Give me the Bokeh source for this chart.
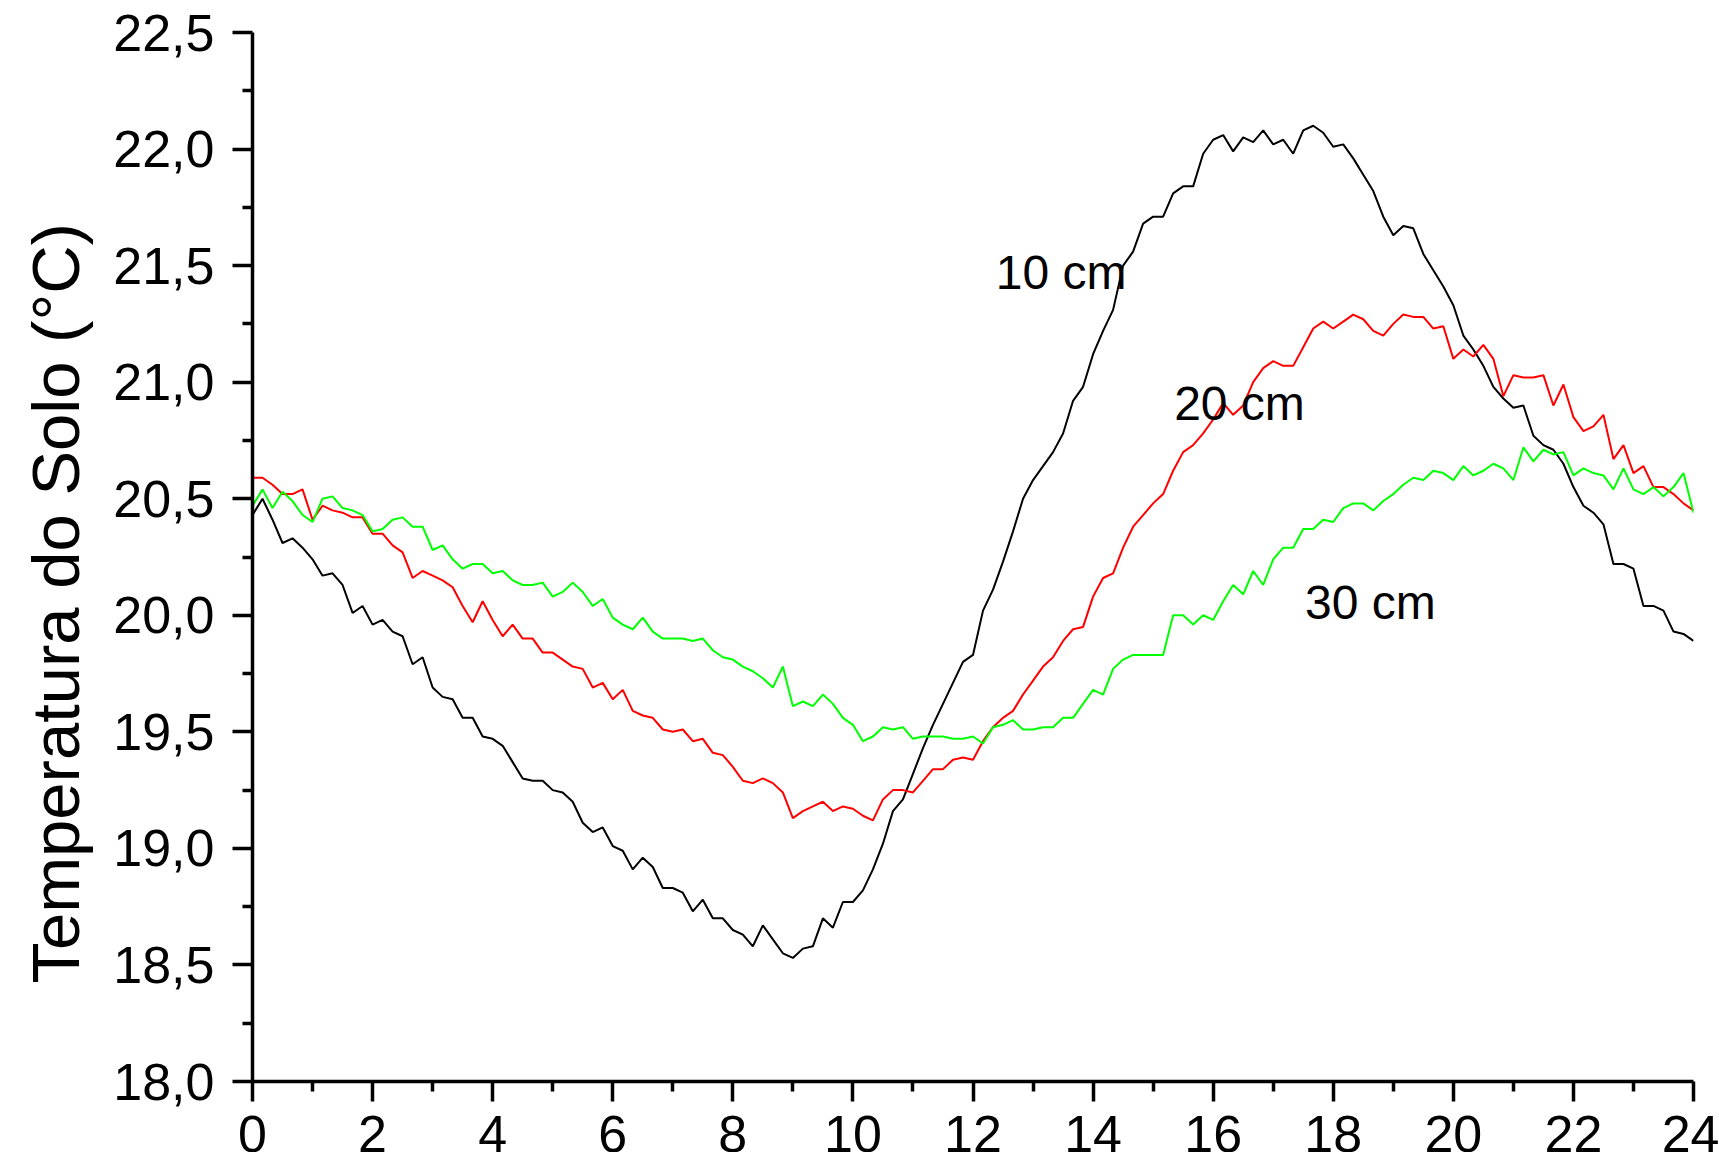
from bokeh.plotting import figure
from bokeh.models import FixedTicker, Label, Range1d, Title
from bokeh.embed import file_html
from bokeh.resources import INLINE

# hours, 10-minute steps
hours = [i / 6 for i in range(145)]

temp_10cm = [
    20.43, 20.50, 20.41, 20.31, 20.33, 20.29, 20.24, 20.17, 20.18, 20.13, 20.01, 20.04,
    19.96, 19.98, 19.93, 19.91, 19.79, 19.82, 19.69, 19.65, 19.64, 19.56, 19.56, 19.48,
    19.47, 19.44, 19.37, 19.30, 19.29, 19.29, 19.25, 19.24, 19.20, 19.11, 19.07, 19.09,
    19.01, 18.99, 18.91, 18.96, 18.92, 18.83, 18.83, 18.81, 18.73, 18.78, 18.70, 18.70,
    18.65, 18.63, 18.58, 18.67, 18.61, 18.55, 18.53, 18.57, 18.58, 18.70, 18.66, 18.77,
    18.77, 18.82, 18.91, 19.02, 19.16, 19.21, 19.32, 19.43, 19.53, 19.62, 19.71, 19.80,
    19.83, 20.02, 20.11, 20.23, 20.36, 20.50, 20.58, 20.64, 20.70, 20.78, 20.92, 20.98,
    21.12, 21.22, 21.31, 21.50, 21.56, 21.68, 21.71, 21.71, 21.81, 21.84, 21.84, 21.98,
    22.04, 22.06, 21.99, 22.05, 22.03, 22.08, 22.02, 22.04, 21.98, 22.08, 22.10, 22.07,
    22.01, 22.02, 21.96, 21.89, 21.82, 21.71, 21.63, 21.67, 21.66, 21.55, 21.48, 21.41,
    21.33, 21.20, 21.14, 21.07, 20.98, 20.93, 20.89, 20.90, 20.77, 20.73, 20.71, 20.65,
    20.55, 20.47, 20.44, 20.39, 20.22, 20.22, 20.20, 20.04, 20.04, 20.02, 19.93, 19.92,
    19.89,
]

temp_20cm = [
    20.59, 20.59, 20.56, 20.52, 20.52, 20.54, 20.41, 20.47, 20.45, 20.44, 20.42, 20.42,
    20.35, 20.35, 20.30, 20.27, 20.16, 20.19, 20.17, 20.15, 20.12, 20.04, 19.97, 20.06,
    19.98, 19.91, 19.96, 19.90, 19.90, 19.84, 19.84, 19.81, 19.78, 19.77, 19.69, 19.71,
    19.64, 19.68, 19.59, 19.57, 19.56, 19.51, 19.50, 19.51, 19.46, 19.47, 19.41, 19.40,
    19.35, 19.29, 19.28, 19.30, 19.28, 19.24, 19.13, 19.16, 19.18, 19.20, 19.16, 19.18,
    19.17, 19.14, 19.12, 19.21, 19.25, 19.25, 19.24, 19.29, 19.34, 19.34, 19.38, 19.39,
    19.38, 19.46, 19.52, 19.56, 19.59, 19.66, 19.72, 19.78, 19.82, 19.89, 19.94, 19.95,
    20.08, 20.16, 20.18, 20.29, 20.38, 20.43, 20.48, 20.52, 20.62, 20.70, 20.73, 20.78,
    20.84, 20.91, 20.86, 20.90, 21.00, 21.06, 21.09, 21.07, 21.07, 21.15, 21.23, 21.26,
    21.23, 21.26, 21.29, 21.27, 21.22, 21.20, 21.25, 21.29, 21.28, 21.28, 21.23, 21.24,
    21.10, 21.14, 21.11, 21.16, 21.10, 20.94, 21.03, 21.02, 21.02, 21.03, 20.90, 20.99,
    20.85, 20.79, 20.81, 20.86, 20.67, 20.73, 20.61, 20.64, 20.55, 20.55, 20.52, 20.48,
    20.45,
]

temp_30cm = [
    20.47, 20.54, 20.46, 20.53, 20.49, 20.43, 20.40, 20.50, 20.51, 20.46, 20.45, 20.43,
    20.36, 20.37, 20.41, 20.42, 20.38, 20.38, 20.28, 20.30, 20.24, 20.20, 20.22, 20.22,
    20.18, 20.19, 20.15, 20.13, 20.13, 20.14, 20.08, 20.10, 20.14, 20.10, 20.04, 20.07,
    19.99, 19.96, 19.94, 19.99, 19.93, 19.90, 19.90, 19.90, 19.89, 19.90, 19.85, 19.82,
    19.81, 19.78, 19.76, 19.73, 19.69, 19.78, 19.61, 19.63, 19.61, 19.66, 19.62, 19.56,
    19.53, 19.46, 19.48, 19.52, 19.51, 19.52, 19.47, 19.48, 19.48, 19.48, 19.47, 19.47,
    19.48, 19.45, 19.52, 19.53, 19.55, 19.51, 19.51, 19.52, 19.52, 19.56, 19.56, 19.62,
    19.68, 19.66, 19.77, 19.81, 19.83, 19.83, 19.83, 19.83, 20.00, 20.00, 19.96, 20.00,
    19.98, 20.06, 20.13, 20.09, 20.19, 20.13, 20.24, 20.29, 20.29, 20.37, 20.37, 20.41,
    20.40, 20.46, 20.48, 20.48, 20.45, 20.49, 20.52, 20.56, 20.59, 20.58, 20.62, 20.61,
    20.58, 20.64, 20.60, 20.62, 20.65, 20.63, 20.58, 20.72, 20.66, 20.71, 20.69, 20.70,
    20.60, 20.63, 20.61, 20.60, 20.54, 20.63, 20.54, 20.52, 20.55, 20.51, 20.55, 20.61,
    20.44,
]

x_ticks = list(range(0, 25, 2))
x_minor = list(range(1, 24, 2))
y_ticks = [18.0, 18.5, 19.0, 19.5, 20.0, 20.5, 21.0, 21.5, 22.0, 22.5]
y_minor = [18.25, 18.75, 19.25, 19.75, 20.25, 20.75, 21.25, 21.75, 22.25]
y_tick_labels = ["18,0", "18,5", "19,0", "19,5", "20,0", "20,5", "21,0", "21,5", "22,0", "22,5"]
y_title = "Temperatura do Solo (°C)"

FONT = "Liberation Sans"

p = figure(width=1719, height=1180, output_backend="svg", toolbar_location=None,
           x_range=Range1d(0, 24), y_range=Range1d(18, 22.5),
           min_border_left=252, min_border_right=26, min_border_top=32, min_border_bottom=99)
p.outline_line_color = None
p.xgrid.visible = False
p.ygrid.visible = False
p.background_fill_color = "white"

p.line(hours, temp_10cm, line_color="black", line_width=2)
p.line(hours, temp_20cm, line_color="#ff0000", line_width=2)
p.line(hours, temp_30cm, line_color="#00ff00", line_width=2)

for ax in (p.xaxis[0], p.yaxis[0]):
    ax.axis_line_width = 3.5
    ax.axis_line_color = "black"
    ax.major_tick_line_width = 3.5
    ax.minor_tick_line_width = 3.5
    ax.major_tick_out = 20
    ax.major_tick_in = 0
    ax.minor_tick_out = 10
    ax.minor_tick_in = 0
    ax.major_label_text_font = FONT
    ax.major_label_text_font_size = "52px"
    ax.major_label_text_color = "black"

p.xaxis[0].ticker = FixedTicker(ticks=x_ticks, minor_ticks=x_minor)
p.xaxis[0].major_label_standoff = 14
p.yaxis[0].ticker = FixedTicker(ticks=y_ticks, minor_ticks=y_minor)
p.yaxis[0].major_label_overrides = {t: l for t, l in zip(y_ticks, y_tick_labels)}
p.yaxis[0].major_label_standoff = 18

p.add_layout(Title(text=y_title, align="left", offset=98, text_font=FONT,
                   text_font_size="67px", text_font_style="normal",
                   text_color="black", vertical_align="top", standoff=31), "left")

series_labels = ["10 cm", "20 cm", "30 cm"]
label_x = [12.38, 15.35, 17.53]
label_y = [21.47, 20.91, 20.055]
for t, lx, ly in zip(series_labels, label_x, label_y):
    p.add_layout(Label(x=lx, y=ly, text=t, text_font=FONT, text_font_size="48px",
                       text_align="left", text_baseline="alphabetic", text_color="black"))

open("out.html", "w").write(file_html(p, INLINE))
